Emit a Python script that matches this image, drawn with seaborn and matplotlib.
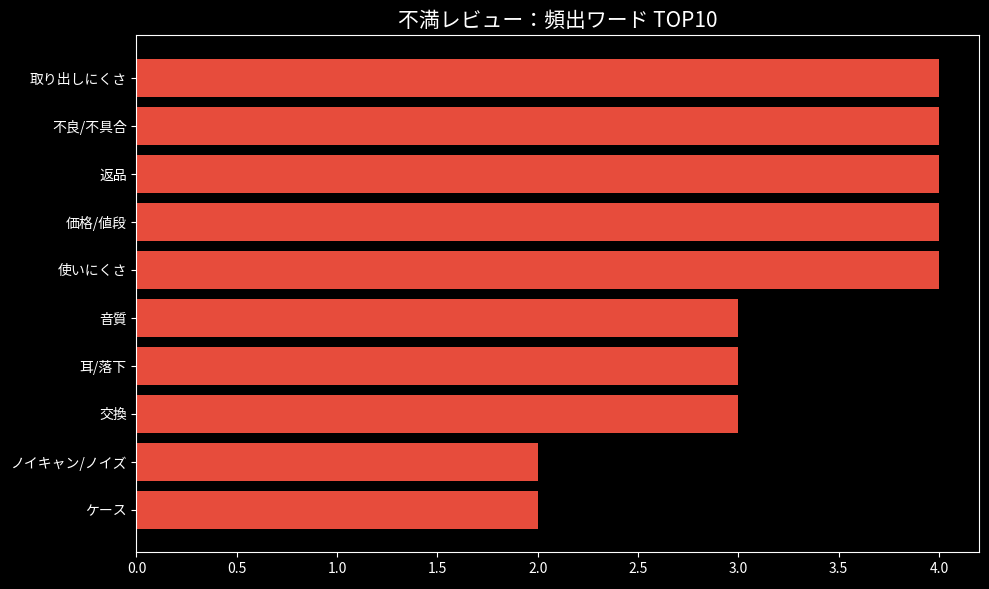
import matplotlib
matplotlib.use("Agg")
import matplotlib.pyplot as plt
import seaborn as sns
import pandas as pd

words = ["取り出しにくさ", "不良/不具合", "返品", "価格/値段", "使いにくさ",
         "音質", "耳/落下", "交換", "ノイキャン/ノイズ", "ケース"]
counts = [4, 4, 4, 4, 4, 3, 3, 3, 2, 2]

plt.style.use("dark_background")
plt.rcParams['font.family'] = ['Noto Sans CJK JP', 'DejaVu Sans']

df = pd.DataFrame({"word": words, "count": counts})

fig, ax = plt.subplots(figsize=(9.89, 5.89), dpi=100)
sns.barplot(data=df, x="count", y="word", color="#e74c3c", saturation=1, width=0.8, ax=ax)
# matplotlib-style margins around the bars
span = len(words) - 1 + 0.8
pad = span * 0.05
ax.set_ylim(len(words) - 1 + 0.4 + pad, -0.4 - pad)
ax.set_title("不満レビュー：頻出ワード TOP10", fontsize=15)
ax.set_xlabel("")
ax.set_ylabel("")
fig.subplots_adjust(left=0.138, right=0.99, top=0.94, bottom=0.062)
fig.savefig("out.png")
